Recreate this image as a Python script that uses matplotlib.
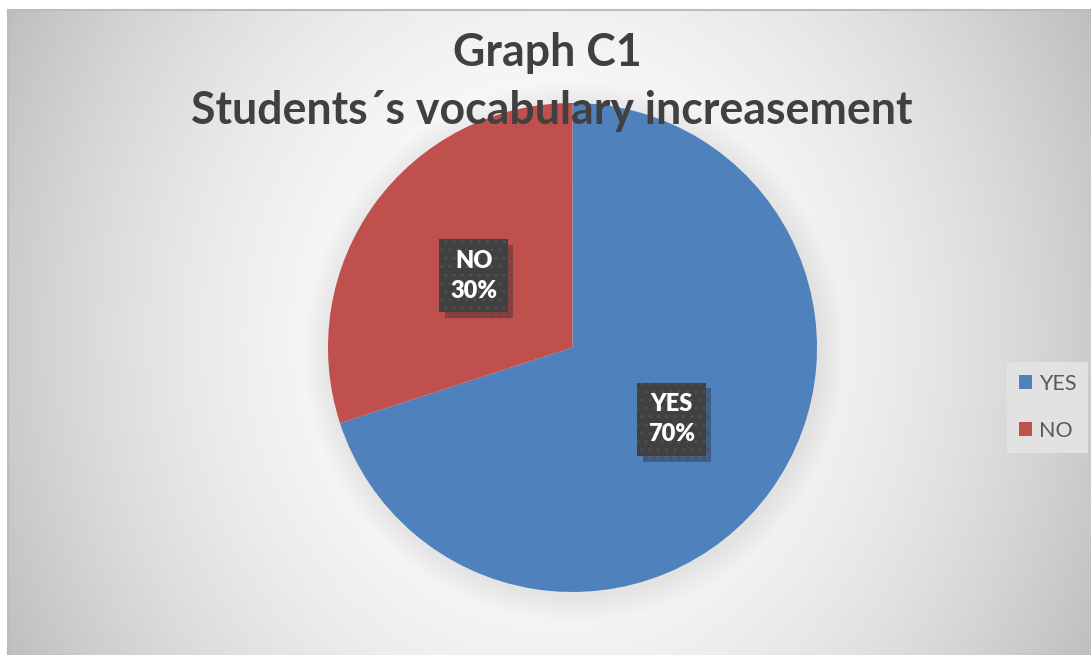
import numpy as np
import matplotlib
matplotlib.use('Agg')
import matplotlib.pyplot as plt
from matplotlib import patheffects as pe

categories = ['YES', 'NO']
values = [70, 30]
colors = ['#4F81BD', '#C0504D']
title_lines = ['Graph C1', 'Students\u00b4s vocabulary increasement']

W, H = 1091, 655
fig = plt.figure(figsize=(W / 100, H / 100), dpi=100)
fig.patch.set_facecolor('white')
ax = fig.add_axes([0, 0, 1, 1])

# background gradient (chart area) with soft pie shadow
x0, y0 = 8, 10
pcx, pcy, R = 572.5, 347.5, 244.5
xs = np.arange(x0, W) + 0.5
ys = np.arange(y0, H) + 0.5
X, Y = np.meshgrid(xs, ys)
dx = (X - 550) / 542
dy = (Y - 335) / 325
val = 1 - 0.2 * dx ** 2 - 0.055 * dy ** 2
r = np.hypot(X - pcx - 2, Y - pcy - 4)
val -= 0.07 * np.clip(1 - (r - R) / 26, 0, 1)
val = np.clip(val, 0, 1)
img = np.dstack([val] * 3)
ax.imshow(img, extent=[x0, W, 0, H - y0], origin='upper',
          interpolation='bilinear', zorder=0, aspect='auto')
ax.plot([x0, W], [H - y0, H - y0], color='#bcbcbc', lw=1.5, zorder=1)
ax.plot([x0, x0], [0, H - y0], color='#bcbcbc', lw=1.5, zorder=1)

labels = [f'{c}\n{v}%' for c, v in zip(categories, values)]
wedges, texts = ax.pie(values, colors=colors, startangle=90, counterclock=False,
                       center=(pcx, H - pcy), radius=R, labels=labels,
                       labeldistance=0.5,
                       wedgeprops=dict(linewidth=0, zorder=2),
                       textprops=dict(ha='center', va='center', color='white',
                                      fontsize=17, fontweight='heavy',
                                      family='Lato', linespacing=1.45,
                                      multialignment='center', zorder=5))
for t in texts:
    t.set_bbox(dict(boxstyle='square,pad=0.45', fc='#404040', ec='#4f4f4f',
                    lw=0, hatch='..'))
    t.get_bbox_patch().set_path_effects([
        pe.SimplePatchShadow(offset=(4, -4), shadow_rgbFace='#222222', alpha=0.35),
        pe.Normal()])

ax.set_xlim(0, W)
ax.set_ylim(0, H)
ax.set_aspect('auto')
ax.axis('off')

# title, fitted to the reference width
renderer = fig.canvas.get_renderer()
t2 = ax.text(552, H - 124, title_lines[1], ha='center', va='baseline',
             fontsize=30, fontweight='bold', family='Lato', color='#404040', zorder=6)
w = t2.get_window_extent(renderer).width
fs = 30 * 720 / w
t2.set_fontsize(fs)
ax.text(547, H - 66, title_lines[0], ha='center', va='baseline',
        fontsize=fs, fontweight='bold', family='Lato', color='#404040', zorder=6)

leg = ax.legend(wedges, categories, loc='upper left',
                bbox_to_anchor=(1007, H - 362), bbox_transform=ax.transData,
                borderaxespad=0, borderpad=0.55, handlelength=0.6,
                handleheight=0.6, handletextpad=0.33, labelspacing=1.25,
                frameon=True, fancybox=False, facecolor='#e2e2e2',
                edgecolor='none', framealpha=1,
                prop=dict(family='Lato', size=15.5))
for tx in leg.get_texts():
    tx.set_color('#595959')

fig.savefig('out.png', dpi=100)
